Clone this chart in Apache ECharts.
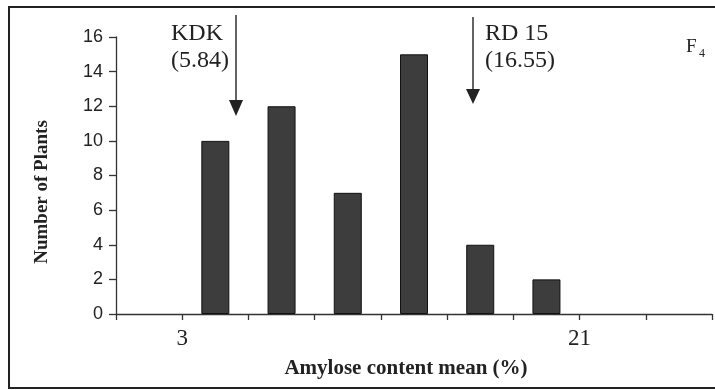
<!DOCTYPE html>
<html>
<head>
<meta charset="utf-8">
<script src="https://cdn.jsdelivr.net/npm/echarts@6/dist/echarts.min.js"></script>
<style>
html,body{margin:0;padding:0;background:#fff;}
#chart{width:715px;height:390px;}
</style>
</head>
<body>
<div id="chart"></div>
<script>
// Bin centres of amylose content (%) and number of plants in each bin
var binCenters = [1.5, 4.5, 7.5, 10.5, 13.5, 16.5, 19.5, 22.5, 25.5];
var plantCounts = [0, 10, 12, 7, 15, 4, 2, 0, 0];
var xTickLabels = [3, 21];
var yTicks = [0, 2, 4, 6, 8, 10, 12, 14, 16];

var chart = echarts.init(document.getElementById('chart'), null, {renderer: 'canvas'});
var serif = '"Liberation Serif", "Times New Roman", serif';
var sans = '"Liberation Sans", Arial, sans-serif';

var option = {
  animation: false,
  backgroundColor: '#ffffff',
  grid: {left: 116, right: 3, top: 37, bottom: 76, containLabel: false},
  xAxis: {
    type: 'value', min: 0, max: 27, interval: 3,
    axisLine: {show: true, lineStyle: {color: '#333', width: 1.3}},
    axisTick: {show: true, inside: false, length: 6, lineStyle: {color: '#333', width: 1.3}},
    splitLine: {show: false},
    axisLabel: {
      margin: 13, fontFamily: serif, fontSize: 23, color: '#222',
      formatter: function (v) { return xTickLabels.indexOf(v) >= 0 ? String(v) : ''; }
    }
  },
  yAxis: {
    type: 'value', min: yTicks[0], max: yTicks[yTicks.length - 1], interval: 2,
    axisLine: {show: true, lineStyle: {color: '#333', width: 1.3}},
    axisTick: {show: true, inside: false, length: 7, lineStyle: {color: '#333', width: 1.3}},
    splitLine: {show: false},
    axisLabel: {margin: 13, fontFamily: sans, fontSize: 18, color: '#222'}
  },
  series: [{
    type: 'bar',
    barWidth: 28,
    data: binCenters.map(function (c, i) { return plantCounts[i] > 0 ? [c, plantCounts[i]] : [c, null]; }),
    itemStyle: {color: '#3d3d3d', borderColor: '#111', borderWidth: 1}
  }],
  graphic: [
    {type: 'rect', shape: {x: 9, y: 7, width: 720, height: 381}, style: {fill: 'none', stroke: '#222', lineWidth: 2}, z: 100},
    {type: 'text', x: 406, y: 369, style: {text: 'Amylose content mean (%)', font: 'bold 21px ' + serif, fill: '#222', textAlign: 'center', textVerticalAlign: 'middle'}},
    {type: 'text', x: 42, y: 192, rotation: Math.PI / 2, style: {text: 'Number of Plants', font: 'bold 19px ' + serif, fill: '#222', textAlign: 'center', textVerticalAlign: 'middle'}},
    {type: 'text', x: 171, y: 34, style: {text: 'KDK', font: '24px ' + serif, fill: '#222', textAlign: 'left', textVerticalAlign: 'middle'}},
    {type: 'text', x: 171, y: 61, style: {text: '(5.84)', font: '24px ' + serif, fill: '#222', textAlign: 'left', textVerticalAlign: 'middle'}},
    {type: 'text', x: 485, y: 34, style: {text: 'RD 15', font: '24px ' + serif, fill: '#222', textAlign: 'left', textVerticalAlign: 'middle'}},
    {type: 'text', x: 485, y: 61, style: {text: '(16.55)', font: '24px ' + serif, fill: '#222', textAlign: 'left', textVerticalAlign: 'middle'}},
    {type: 'text', x: 686, y: 47, style: {text: 'F', font: '19px ' + serif, fill: '#222', textAlign: 'left', textVerticalAlign: 'middle'}},
    {type: 'text', x: 699, y: 54, style: {text: '4', font: '12px ' + serif, fill: '#222', textAlign: 'left', textVerticalAlign: 'middle'}},
    {type: 'line', shape: {x1: 236, y1: 15, x2: 236, y2: 102}, style: {stroke: '#222', lineWidth: 1.4}},
    {type: 'polygon', shape: {points: [[229, 100], [243, 100], [236, 116]]}, style: {fill: '#222'}},
    {type: 'line', shape: {x1: 473, y1: 17, x2: 473, y2: 91}, style: {stroke: '#222', lineWidth: 1.4}},
    {type: 'polygon', shape: {points: [[466, 89], [480, 89], [473, 104]]}, style: {fill: '#222'}}
  ]
};
chart.setOption(option);
</script>
</body>
</html>
